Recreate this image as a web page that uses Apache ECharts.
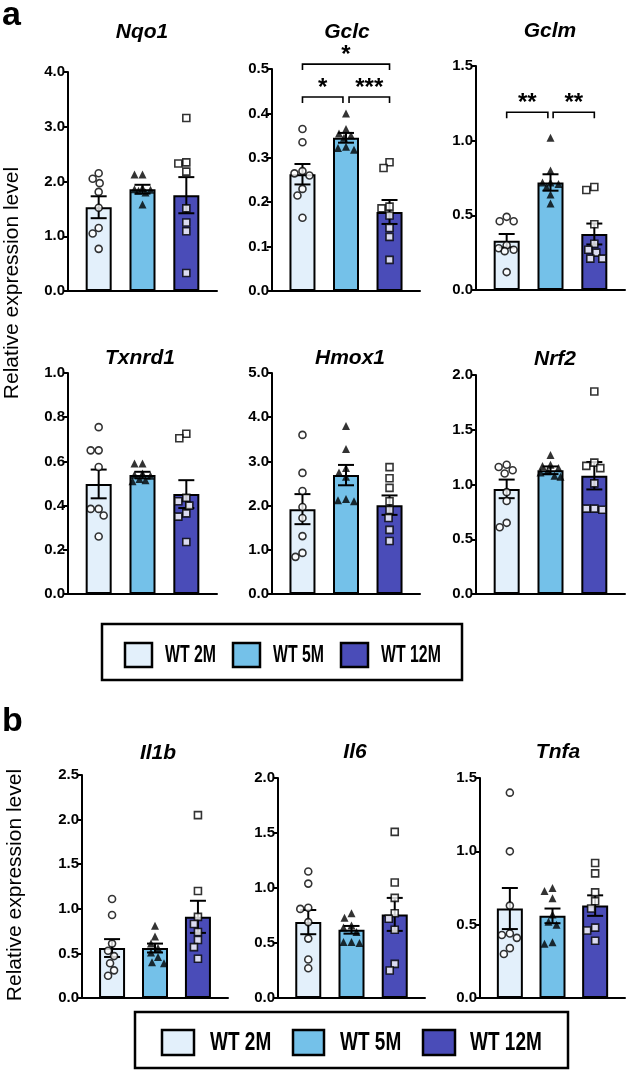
<!DOCTYPE html>
<html><head><meta charset="utf-8">
<script src="https://cdn.jsdelivr.net/npm/echarts@6/dist/echarts.min.js"></script>
<style>html,body{margin:0;padding:0;background:#fff}#c{width:630px;height:1071px}</style>
</head><body><div id="c"></div>
<script>
// ---------- data ----------
const groups = ['WT 2M', 'WT 5M', 'WT 12M'];
const groupColors = ['#e3f0fb', '#74c1e9', '#4a4cb8'];
const groupSymbols = ['circle', 'triangle', 'rect'];
const genes = ['Nqo1', 'Gclc', 'Gclm', 'Txnrd1', 'Hmox1', 'Nrf2', 'Il1b', 'Il6', 'Tnfa'];
const axisMax = [4, 0.5, 1.5, 1, 5, 2, 2.5, 2, 1.5];
const axisInterval = [1, 0.1, 0.5, 0.2, 1, 0.5, 0.5, 0.5, 0.5];
const yTitle = 'Relative expression level';
const panelLetters = ['a', 'b'];

const nqo1Mean = [1.53, 1.86, 1.75];
const nqo1Sem = [0.20, 0.08, 0.33];
const nqo1Pts = [[2.15, 2.05, 1.97, 1.81, 1.52, 1.15, 1.05, 0.77], [2.13, 2.13, 1.88, 1.86, 1.85, 1.83, 1.80, 1.58], [3.16, 2.35, 2.33, 2.18, 1.51, 1.25, 1.09, 0.33]];

const gclcMean = [0.263, 0.345, 0.178];
const gclcSem = [0.023, 0.011, 0.027];
const gclcPts = [[0.365, 0.335, 0.27, 0.265, 0.26, 0.23, 0.215, 0.165], [0.40, 0.365, 0.355, 0.35, 0.345, 0.325, 0.322, 0.318], [0.29, 0.277, 0.19, 0.186, 0.17, 0.142, 0.122, 0.07]];
const gclcSig = [[1, 3, 0.511, '*'], [1, 1.93, 0.437, '*'], [2.07, 3, 0.437, '***']];

const gclmMean = [0.33, 0.72, 0.375];
const gclmSem = [0.045, 0.055, 0.07];
const gclmPts = [[0.49, 0.46, 0.46, 0.30, 0.28, 0.27, 0.26, 0.12], [1.02, 0.80, 0.72, 0.72, 0.71, 0.69, 0.64, 0.58], [0.69, 0.67, 0.44, 0.31, 0.27, 0.25, 0.21, 0.21]];
const gclmSig = [[1, 1.94, 1.19, '**'], [2.06, 3, 1.19, '**']];

const txnrd1Mean = [0.498, 0.538, 0.452];
const txnrd1Sem = [0.065, 0.015, 0.063];
const txnrd1Pts = [[0.755, 0.65, 0.65, 0.575, 0.385, 0.385, 0.355, 0.26], [0.59, 0.59, 0.545, 0.54, 0.535, 0.52, 0.515, 0.51], [0.725, 0.705, 0.435, 0.42, 0.4, 0.365, 0.35, 0.235]];

const hmox1Mean = [1.92, 2.69, 2.01];
const hmox1Sem = [0.34, 0.23, 0.22];
const hmox1Pts = [[3.6, 2.74, 2.33, 1.97, 1.72, 1.31, 0.93, 0.84], [3.8, 3.28, 2.85, 2.75, 2.65, 2.15, 2.12, 2.1], [2.87, 2.62, 2.4, 2.1, 1.9, 1.72, 1.45, 1.2]];

const nrf2Mean = [0.96, 1.13, 1.08];
const nrf2Sem = [0.085, 0.035, 0.125];
const nrf2Pts = [[1.18, 1.16, 1.13, 1.1, 0.93, 0.85, 0.65, 0.61], [1.27, 1.18, 1.17, 1.15, 1.12, 1.11, 1.08, 1.07], [1.85, 1.2, 1.17, 1.15, 1.01, 0.78, 0.78, 0.77]];

const il1bMean = [0.56, 0.56, 0.91];
const il1bSem = [0.10, 0.05, 0.18];
const il1bPts = [[1.11, 0.93, 0.61, 0.53, 0.47, 0.39, 0.31, 0.25], [0.81, 0.69, 0.61, 0.56, 0.51, 0.46, 0.4, 0.39], [2.05, 1.2, 0.91, 0.83, 0.74, 0.65, 0.57, 0.44]];

const il6Mean = [0.69, 0.62, 0.76];
const il6Sem = [0.11, 0.035, 0.15];
const il6Pts = [[1.15, 1.04, 0.82, 0.81, 0.69, 0.54, 0.35, 0.27], [0.77, 0.73, 0.66, 0.64, 0.6, 0.51, 0.51, 0.5], [1.51, 1.05, 0.91, 0.77, 0.72, 0.62, 0.31, 0.25]];

const tnfaMean = [0.61, 0.56, 0.63];
const tnfaSem = [0.14, 0.05, 0.07];
const tnfaPts = [[1.4, 1.0, 0.63, 0.44, 0.43, 0.41, 0.34, 0.3], [0.75, 0.73, 0.68, 0.57, 0.52, 0.5, 0.38, 0.37], [0.92, 0.85, 0.72, 0.66, 0.61, 0.48, 0.46, 0.39]];

const allMeans = [nqo1Mean, gclcMean, gclmMean, txnrd1Mean, hmox1Mean, nrf2Mean, il1bMean, il6Mean, tnfaMean];
const allSems = [nqo1Sem, gclcSem, gclmSem, txnrd1Sem, hmox1Sem, nrf2Sem, il1bSem, il6Sem, tnfaSem];
const allPts = [nqo1Pts, gclcPts, gclmPts, txnrd1Pts, hmox1Pts, nrf2Pts, il1bPts, il6Pts, tnfaPts];
const allSig = {1: gclcSig, 2: gclmSig};

// ---------- layout ----------
const FONT = "'Liberation Sans', Arial, Helvetica, sans-serif";
const grids = [
  {left: 68, top: 72, width: 149, height: 219},
  {left: 272, top: 69, width: 148, height: 222},
  {left: 476, top: 66, width: 149, height: 224},
  {left: 68, top: 373, width: 149, height: 221},
  {left: 272, top: 373, width: 148, height: 221},
  {left: 476, top: 375, width: 149, height: 219},
  {left: 82, top: 775, width: 146, height: 223},
  {left: 278, top: 778, width: 147, height: 220},
  {left: 480, top: 778, width: 145, height: 220}
];
const titlePos = [[142, 32], [347, 32], [550, 31], [140, 358], [350, 358], [555, 359], [158, 753], [355, 752], [558, 752]];

// horizontal spread of points so that markers do not overlap (kept within the bar)
function swarm(vals, pxPerUnit, d, maxOff) {
  const placed = [], offs = [];
  vals.forEach(v => {
    const y = v * pxPerUnit;
    let best = null, fallback = 0, fallbackDist = -1;
    for (let k = 0; k <= maxOff * 2; k++) {
      const dx = (k % 2 ? -1 : 1) * Math.ceil(k / 2);
      let minD = Infinity;
      placed.forEach(p => { minD = Math.min(minD, Math.hypot(p.x - dx, p.y - y)); });
      if (minD >= d) { best = dx; break; }
      if (minD > fallbackDist) { fallbackDist = minD; fallback = dx; }
    }
    if (best === null) best = fallback;
    placed.push({x: best, y});
    offs.push(best);
  });
  return offs;
}

const option = {
  animation: false,
  backgroundColor: '#fff',
  grid: grids.map(g => Object.assign({containLabel: false}, g)),
  xAxis: grids.map((g, i) => ({
    type: 'value', gridIndex: i, min: 0.3, max: 3.7,
    axisLine: {show: true, onZero: false, lineStyle: {color: '#000', width: 2}},
    axisTick: {show: false}, axisLabel: {show: false}, splitLine: {show: false}
  })),
  yAxis: grids.map((g, i) => ({
    type: 'value', gridIndex: i, min: 0, max: axisMax[i], interval: axisInterval[i],
    axisLine: {show: true, lineStyle: {color: '#000', width: 2}},
    axisTick: {show: true, length: 5, lineStyle: {color: '#000', width: 2}},
    axisLabel: {color: '#000', fontFamily: FONT, fontWeight: 'bold', fontSize: 15, margin: 3,
      formatter: v => v.toFixed(1)},
    splitLine: {show: false}
  })),
  series: [],
  graphic: []
};

genes.forEach((gene, i) => {
  const means = allMeans[i], sems = allSems[i], pts = allPts[i];
  option.series.push({
    type: 'bar', xAxisIndex: i, yAxisIndex: i, barWidth: 26, z: 2,
    itemStyle: {borderColor: '#000', borderWidth: 2},
    data: means.map((m, k) => ({value: [k + 1, m], itemStyle: {color: groupColors[k]}}))
  });
  option.series.push({
    type: 'custom', xAxisIndex: i, yAxisIndex: i, z: 3, clip: false,
    data: means.map((m, k) => [k + 1, m, sems[k]]),
    renderItem: (params, api) => {
      const x = api.value(0), m = api.value(1), s = api.value(2);
      const t = api.coord([x, m + s]), b = api.coord([x, m - s]);
      const hw = 8, st = {stroke: '#000', lineWidth: 2};
      return {type: 'group', children: [
        {type: 'line', shape: {x1: t[0], y1: t[1], x2: b[0], y2: b[1]}, style: st},
        {type: 'line', shape: {x1: t[0] - hw, y1: t[1], x2: t[0] + hw, y2: t[1]}, style: st},
        {type: 'line', shape: {x1: b[0] - hw, y1: b[1], x2: b[0] + hw, y2: b[1]}, style: st}
      ]};
    }
  });
  const pxPerUnit = grids[i].height / axisMax[i];
  pts.forEach((vals, k) => {
    const offs = swarm(vals, pxPerUnit, 8, 10);
    option.series.push({
      type: 'scatter', xAxisIndex: i, yAxisIndex: i, z: 4,
      symbol: groupSymbols[k], symbolSize: k === 1 ? 8 : 7,
      itemStyle: k === 1 ? {color: '#000'} : {color: '#fff', borderColor: '#000', borderWidth: 1.6},
      data: vals.map((v, j) => ({value: [k + 1, v], symbolOffset: [offs[j], 0]}))
    });
  });
  if (allSig[i]) {
    const sig = allSig[i];
    option.series.push({
      type: 'custom', xAxisIndex: i, yAxisIndex: i, z: 5, clip: false,
      data: sig.map(s => [s[0], s[2]]),
      renderItem: (params, api) => {
        const s = sig[params.dataIndex];
        const p1 = api.coord([s[0], s[2]]), p2 = api.coord([s[1], s[2]]);
        const tk = 6;
        return {type: 'group', children: [
          {type: 'polyline', shape: {points: [[p1[0], p1[1] + tk], [p1[0], p1[1]], [p2[0], p2[1]], [p2[0], p2[1] + tk]]},
            style: {stroke: '#000', lineWidth: 1.6, fill: null}},
          {type: 'text', style: {text: s[3], x: (p1[0] + p2[0]) / 2, y: p1[1] - 9, align: 'center', verticalAlign: 'middle',
            font: 'bold 24px ' + FONT, fill: '#000'}}
        ]};
      }
    });
  }
  option.graphic.push({
    type: 'text', x: titlePos[i][0], y: titlePos[i][1],
    style: {text: gene, x: 0, y: 0, align: 'center', verticalAlign: 'middle', textAlign: 'center', textVerticalAlign: 'middle',
      font: 'italic bold 21px ' + FONT, fill: '#000'}
  });
});

// panel letters
[[2, 16, panelLetters[0]], [2, 722, panelLetters[1]]].forEach(p => {
  option.graphic.push({type: 'text', x: p[0], y: p[1],
    style: {text: p[2], x: 0, y: 0, align: 'left', verticalAlign: 'middle', textAlign: 'left', textVerticalAlign: 'middle',
      font: 'bold 34px ' + FONT, fill: '#000'}});
});
// y titles
[[12, 283], [15, 885]].forEach(p => {
  option.graphic.push({type: 'text', x: p[0], y: p[1], rotation: Math.PI / 2,
    style: {text: yTitle, x: 0, y: 0, align: 'center', verticalAlign: 'middle', textAlign: 'center', textVerticalAlign: 'middle',
      font: '21px ' + FONT, fill: '#000'}});
});
// legends (condensed lettering via horizontal scale)
const legendBoxes = [
  {box: [102, 624, 360, 56], sq: [[125, 643, 27, 24], [233, 643, 27, 24], [341, 643, 27, 24]], tx: [165, 273, 381], ty: 655, fs: 24, sx: 0.66},
  {box: [135, 1012, 433, 56], sq: [[162, 1030, 32, 25], [293, 1030, 31, 25], [423, 1030, 32, 25]], tx: [210, 340, 470], ty: 1043, fs: 25, sx: 0.76}
];
legendBoxes.forEach(L => {
  option.graphic.push({type: 'rect', shape: {x: L.box[0], y: L.box[1], width: L.box[2], height: L.box[3]},
    style: {fill: '#fff', stroke: '#000', lineWidth: 2.5}, z: 10});
  groups.forEach((g, k) => {
    const s = L.sq[k];
    option.graphic.push({type: 'rect', shape: {x: s[0], y: s[1], width: s[2], height: s[3]},
      style: {fill: groupColors[k], stroke: '#000', lineWidth: 2.5}, z: 11});
    option.graphic.push({type: 'text', x: L.tx[k], y: L.ty, z: 11, scaleX: L.sx, scaleY: 1,
      style: {text: g, x: 0, y: 0, align: 'left', verticalAlign: 'middle', textAlign: 'left', textVerticalAlign: 'middle',
        font: 'bold ' + L.fs + 'px ' + FONT, fill: '#000'}});
  });
});

const chart = echarts.init(document.getElementById('c'), null, {renderer: 'canvas'});
chart.setOption(option);
</script></body></html>
